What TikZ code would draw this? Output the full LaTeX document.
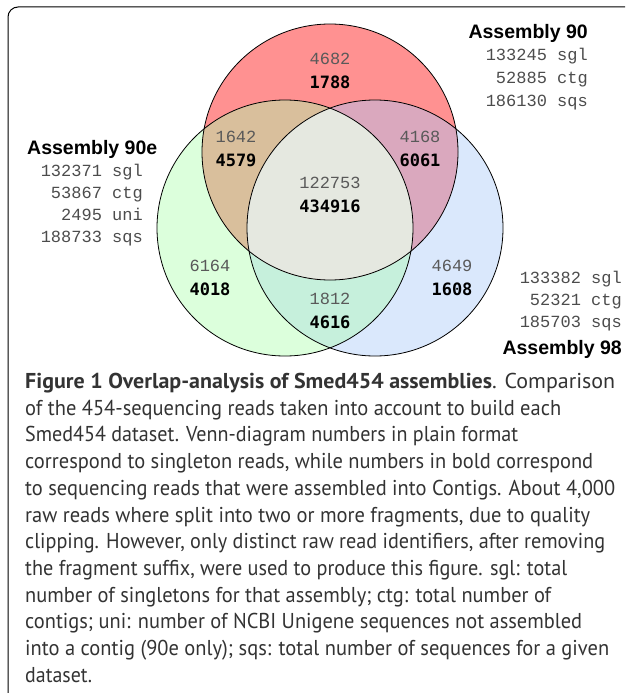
\documentclass[tikz,border=0pt]{standalone}
\usepackage{fontspec}
\usepackage{graphicx}
\usepackage{tikz}
\setmainfont{PT Sans}
\newfontfamily\plainmono{Liberation Mono}
\newfontfamily\heavymono{DejaVu Sans Mono}
\newfontfamily\headsans{Liberation Sans}
\definecolor{set90}{RGB}{255,145,145}
\definecolor{set90e}{RGB}{220,255,220}
\definecolor{set98}{RGB}{218,232,252}
\definecolor{cut90e}{RGB}{217,191,156}
\definecolor{cut98}{RGB}{218,168,190}
\definecolor{cutlow}{RGB}{198,240,220}
\definecolor{cutall}{RGB}{229,232,224}

\begin{document}
\begin{tikzpicture}[
    x=1pt,y=-1pt,
    plain/.style={font=\plainmono\fontsize{17}{20}\selectfont, text=black!65, inner sep=0},
    bold/.style={font=\heavymono\bfseries\fontsize{17}{20}\selectfont, inner sep=0},
    head/.style={font=\headsans\bfseries\fontsize{19.5}{22}\selectfont, inner sep=0},
    stat/.style={font=\plainmono\fontsize{17}{20}\selectfont, text=black!70, inner sep=0, anchor=base east},
    capline/.style={font=\fontsize{21.5}{26}\selectfont, text=black!80, inner sep=0, anchor=base west}
    ]
    \useasboundingbox (0,0) rectangle (625,693);
    \coordinate (c90) at (330,152);
    \coordinate (c90e) at (285,228);
    \coordinate (c98) at (375,228);
    % frame
    \draw[line width=1pt] (8,693) -- (8,17) arc[start angle=180, end angle=90, radius=10pt] -- (625,7);
    % venn fills
    \fill[set90e] (c90e) circle (128pt);
    \fill[set98] (c98) circle (128pt);
    \begin{scope}
      \clip (c90e) circle (128pt);
      \fill[cutlow] (c98) circle (128pt);
    \end{scope}
    \fill[set90] (c90) circle (128pt);
    \begin{scope}
      \clip (c90) circle (128pt);
      \fill[cut90e] (c90e) circle (128pt);
      \fill[cut98] (c98) circle (128pt);
      \clip (c90e) circle (128pt);
      \fill[cutall] (c98) circle (128pt);
    \end{scope}
    \foreach \c in {c90,c90e,c98}
      \draw[line width=0.8pt] (\c) circle (128pt);
    % counts
    \node[plain] (only90) at (330,59) {4682};
    \node[bold] (only90b) at (330,82) {1788};
    \node[plain] (ab) at (236,137) {1642};
    \node[bold] (abb) at (236,160) {4579};
    \node[plain] (ac) at (420,137) {4168};
    \node[bold] (acb) at (420,160) {6061};
    \node[plain] (all) at (330,183) {122753};
    \node[bold] (allb) at (330,206) {434916};
    \node[plain] (only90e) at (210,266) {6164};
    \node[bold] (only90eb) at (210,289) {4018};
    \node[plain] (only98) at (452,266) {4649};
    \node[bold] (only98b) at (452,289) {1608};
    \node[plain] (bc) at (330,299) {1812};
    \node[bold] (bcb) at (330,322) {4616};
    % assembly 90
    \node[head, anchor=base east] (h90) at (588,39) {Assembly 90};
    \node[stat] (s90a) at (588,61) {133245 sgl};
    \node[stat] (s90b) at (588,84) {52885 ctg};
    \node[stat] (s90c) at (588,106) {186130 sqs};
    % assembly 90e
    \node[head, anchor=base west] (h90e) at (27,154) {Assembly 90e};
    \node[stat] (s90ea) at (143,176) {132371 sgl};
    \node[stat] (s90eb) at (143,198) {53867 ctg};
    \node[stat] (s90ec) at (143,220) {2495 uni};
    \node[stat] (s90ed) at (143,242) {188733 sqs};
    % assembly 98
    \node[stat] (s98a) at (622,283) {133382 sgl};
    \node[stat] (s98b) at (622,305) {52321 ctg};
    \node[stat] (s98c) at (622,327) {185703 sqs};
    \node[head, anchor=base east] (h98) at (622,354) {Assembly 98};
    % caption, each line fitted to its width
    \foreach \w/\txt [count=\i from 0] in {
      590/{\textbf{Figure 1 Overlap-analysis of Smed454 assemblies}. Comparison},
      536/{of the 454-sequencing reads taken into account to build each},
      493/{Smed454 dataset. Venn-diagram numbers in plain format},
      568/{correspond to singleton reads, while numbers in bold correspond},
      590/{to sequencing reads that were assembled into Contigs. About 4,000},
      565/{raw reads where split into two or more fragments, due to quality},
      580/{clipping. However, only distinct raw read identifiers, after removing},
      542/{the fragment suffix, were used to produce this figure. sgl: total},
      526/{number of singletons for that assembly; ctg: total number of},
      557/{contigs; uni: number of NCBI Unigene sequences not assembled},
      584/{into a contig (90e only); sqs: total number of sequences for a given},
      67/{dataset.}}
      \node[capline] (cap\i) at (25,{388.5+26.7*\i}) {\resizebox{\w pt}{\height}{\txt}};
  \end{tikzpicture}
\end{document}
